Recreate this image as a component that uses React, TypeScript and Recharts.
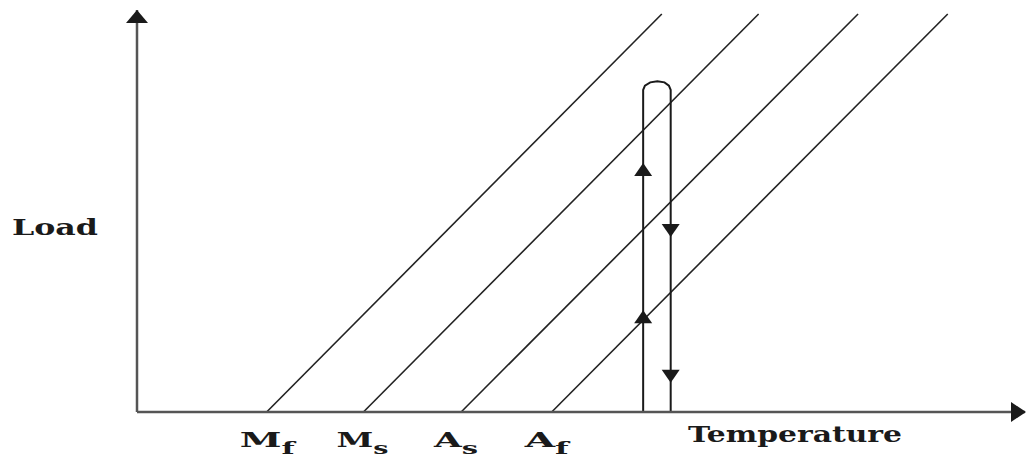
import React from 'react';
import {
  ComposedChart,
  Line,
  Scatter,
  XAxis,
  YAxis,
  ReferenceDot,
} from 'recharts';

// transformation temperatures on the temperature axis
const transitionTemps = [14.6, 25.5, 36.5, 46.7];
const transitionLabels = [
  { main: 'M', sub: 'f' },
  { main: 'M', sub: 's' },
  { main: 'A', sub: 's' },
  { main: 'A', sub: 'f' },
];

// load-temperature boundary lines (start at the zero-load temperature)
const mfLine = [{ t: 14.6, load: 0 }, { t: 59.1, load: 99 }];
const msLine = [{ t: 25.5, load: 0 }, { t: 70.0, load: 99 }];
const asLine = [{ t: 36.5, load: 0 }, { t: 81.2, load: 99 }];
const afLine = [{ t: 46.7, load: 0 }, { t: 91.3, load: 99 }];

// loading / unloading path at constant temperature
const loadPath = [
  { t: 57.0, load: 0 },
  { t: 57.0, load: 80.1 },
  { t: 57.2, load: 81.2 },
  { t: 57.8, load: 82.0 },
  { t: 58.6, load: 82.3 },
  { t: 59.4, load: 82.0 },
  { t: 59.9, load: 81.2 },
  { t: 60.1, load: 80.1 },
  { t: 60.1, load: 0 },
];

// direction arrows along the path
const pathArrows = [
  { t: 57.0, load: 23.6, dir: 'up' },
  { t: 57.0, load: 60.2, dir: 'up' },
  { t: 60.1, load: 45.3, dir: 'down' },
  { t: 60.1, load: 9.0, dir: 'down' },
];

const FONT = '"DejaVu Serif", "Liberation Serif", serif';
const INK = '#1a1a1a';

const PathArrow = (props: any) => {
  const { cx, cy, payload } = props;
  if (cx == null || cy == null) return null;
  const pts =
    payload.dir === 'up'
      ? `${cx},${cy - 7} ${cx - 9},${cy + 6} ${cx + 9},${cy + 6}`
      : `${cx},${cy + 7} ${cx - 9},${cy - 6} ${cx + 9},${cy - 6}`;
  return <polygon points={pts} fill={INK} />;
};

const TempTick = (props: any) => {
  const { x, y, payload } = props;
  const i = transitionTemps.indexOf(payload.value);
  const lbl = transitionLabels[i];
  if (!lbl) return null;
  const widths = [55, 52, 44, 44];
  return (
    <text
      x={x - 27}
      y={y + 27}
      fontFamily={FONT}
      fontWeight="bold"
      fontSize={21}
      fill={INK}
      textLength={widths[i]}
      lengthAdjust="spacingAndGlyphs"
    >
      {lbl.main}
      <tspan fontSize={17} dy={7}>
        {lbl.sub}
      </tspan>
    </text>
  );
};

export default function App() {
  return (
    <div style={{ position: 'absolute', left: 0, top: 0, width: 1027, height: 457, background: '#fff' }}>
      <ComposedChart width={1027} height={457} margin={{ top: 10, right: 2, bottom: 0, left: 136 }}>
        <XAxis
          type="number"
          dataKey="t"
          domain={[0, 100]}
          ticks={transitionTemps}
          interval={0}
          height={45}
          tickLine={false}
          axisLine={{ stroke: '#555', strokeWidth: 2.5 }}
          tick={<TempTick />}
          label={{
            content: (p: any) => (
              <text
                x={p.viewBox.x + 551}
                y={p.viewBox.y + 30}
                fontFamily={FONT}
                fontWeight="bold"
                fontSize={23}
                fill={INK}
                textLength={214}
                lengthAdjust="spacingAndGlyphs"
              >
                Temperature
              </text>
            ),
          }}
        />
        <YAxis
          type="number"
          dataKey="load"
          domain={[0, 100]}
          width={1}
          tick={false}
          tickLine={false}
          axisLine={{ stroke: '#555', strokeWidth: 2.5 }}
          label={{
            content: () => (
              <text
                x={12}
                y={235}
                fontFamily={FONT}
                fontWeight="bold"
                fontSize={23}
                fill={INK}
                textLength={86}
                lengthAdjust="spacingAndGlyphs"
              >
                Load
              </text>
            ),
          }}
        />
        {[mfLine, msLine, asLine, afLine].map((d, i) => (
          <Line
            key={i}
            data={d}
            dataKey="load"
            type="linear"
            stroke="#222"
            strokeWidth={1.6}
            dot={false}
            activeDot={false}
            isAnimationActive={false}
          />
        ))}
        <Line
          data={loadPath}
          dataKey="load"
          type="linear"
          stroke={INK}
          strokeWidth={2}
          dot={false}
          activeDot={false}
          isAnimationActive={false}
        />
        <Scatter data={pathArrows} dataKey="load" shape={<PathArrow />} isAnimationActive={false} />
        {/* axis arrowheads */}
        <ReferenceDot
          x={100}
          y={0}
          ifOverflow="visible"
          shape={(p: any) => (
            <polygon points={`${p.cx + 1},${p.cy} ${p.cx - 14},${p.cy - 10} ${p.cx - 14},${p.cy + 10}`} fill={INK} />
          )}
        />
        <ReferenceDot
          x={0}
          y={100}
          ifOverflow="visible"
          shape={(p: any) => (
            <polygon points={`${p.cx},${p.cy} ${p.cx - 11},${p.cy + 13} ${p.cx + 11},${p.cy + 13}`} fill={INK} />
          )}
        />
      </ComposedChart>
    </div>
  );
}
